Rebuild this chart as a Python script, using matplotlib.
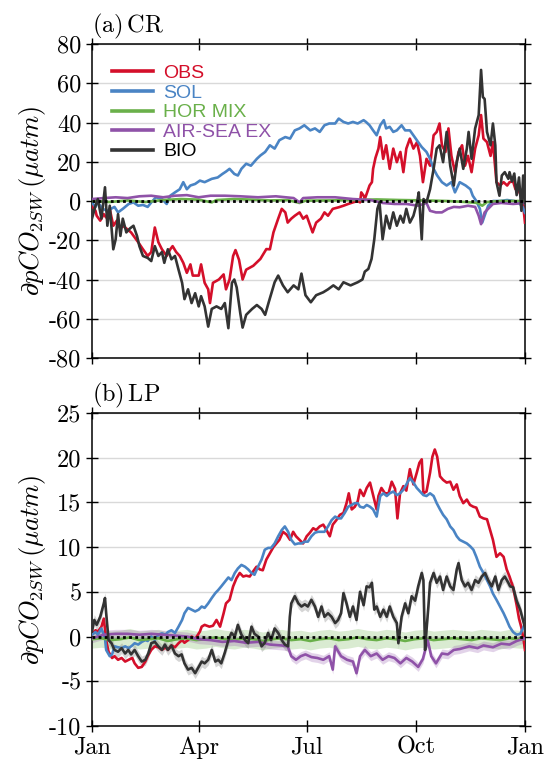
import numpy as np
import matplotlib
matplotlib.use("Agg")
import matplotlib.pyplot as plt

plt.rcParams['mathtext.fontset'] = 'cm'
plt.rcParams['axes.unicode_minus'] = False

# ---------------- data (day of year, value) ----------------
OBS_A = [(0,-2.4),(3,-5),(4,-7.5),(7,-10),(10,-6.7),(12,-8.4),(15,-4),(18,-12.6),(21,-10),(24,-14),
         (26,-12.6),(29,-14),(33,-16),(39,-21),(43,-24.6),(47,-28),(50,-26),(53,-13.5),(56,-21),(59,-24.6),
         (63,-28),(66,-24.6),(68,-23),(71,-26),(74,-28),(77,-31.5),(80,-36.6),(83,-32.3),(85,-38),(90,-38),
         (92,-32.3),(95,-41.7),(98,-45),(99.5,-52),(102,-41.7),(107,-40),(111,-37.4),(113,-45),(116,-40),
         (119,-28),(121,-25),(124,-30),(127,-40),(130,-35),(136,-33),(142,-29.5),(147,-24.5),(150,-24.6),
         (153,-16),(157,-9),(160,-4),(163,-5.8),(165,-11),(168,-9),(171,-7.5),(175,-5.8),(178,-9),(181,-7.5),
         (184,-12.6),(186,-16),(189,-11),(193,-9),(196,-5.8),(199,-7.5),(203,-4),(208,-3.2),(212,-2.4),
         (216,-1.5),(220,-0.7),(224,0),(226,-0.7),(227,4.4),(229,2.7),(230,1),(232,4.4),(234,7.9),(236,9.6),
         (237,16.4),(239,22),(241.5,26.7),(243,32.6),(245.5,21.5),(248,28.4),(251,16.4),(254,26.7),(257,19.8),
         (260,25),(262.5,14.7),(265,26.7),(268,31.8),(271,26.7),(274,30),(276.5,23),(279,9.6),(282,21.5),
         (285,18),(288,33.5),(290.6,35.2),(293,39.5),(295,28.4),(298,25),(300.5,37),(303,23),(306,14.7),
         (309,25),(312,28.4),(314.5,18),(317,23),(320,14.7),(323,26.7),(326,33.5),(328,43.8),(330,31.8),
         (333,30),(336,23),(338,30),(341,9.6),(344,7.9),(347,9.6),(350,7.9),(352,9.6),(355,10),(357,6),
         (360,5),(362,2),(364,-5),(365,-11)]
SOL_A = [(0,-0.7),(3,-3),(5,-0.7),(9,-4),(13,-5),(19,-3),(22,-5.8),(26,-4),(31,-1.5),(35,-0.7),(39,-2.4),
         (43,-2),(47,-3),(50,-0.7),(54,1.9),(59,1),(63,-1.5),(66,2.7),(70,4.4),(74,6),(77,9.6),(80,6),
         (83,7.9),(87,8.7),(91,10.4),(95,9.6),(101,11.3),(106,12),(110,13.8),(113,15),(116,16.4),(120,13.8),
         (123,13),(126,16.4),(130,19),(134,18),(139,21.5),(142,23.2),(146,25),(150,28.4),(154,26.7),(158,31),
         (163,32.6),(167,31.8),(171,36),(175,37),(179,38.6),(184,36),(188,37),(192,35.2),(196,38.6),(200,39.5),
         (205,39.5),(208,42),(212,40.3),(216,39.5),(220,40.3),(224,39.5),(229,41.2),(231,40.3),(234,38.6),
         (237,36),(240,33.5),(243,38.6),(246,41.2),(248,37),(251,37.8),(254,35.2),(257,36),(261,38.6),(264,36),
         (268,36),(272,32.6),(275,30),(278,27.5),(282,25),(285,21.5),(288,16.4),(291,13),(295,9.6),(299,7.9),
         (303,9.6),(306,4.4),(310,9.6),(315,7.9),(319,6),(321,2.7),(324,0),(327,-4),(329,-11),(331,-7.5),
         (334,-2.4),(338,0),(344,0),(350,0.5),(356,0),(360,-1),(363,-3),(365,-6)]
MIX_A = [(0,0),(15,-0.5),(30,0.3),(45,-0.5),(60,0.5),(75,1),(90,0.7),(101,-0.7),(105,0.5),(120,1),(135,0.7),
         (150,0.3),(165,0.5),(175,-1),(180,0.2),(200,0.3),(220,0.5),(240,0.8),(260,0.5),(280,0.3),(300,0),
         (315,-0.5),(325,-1),(329,-2.4),(333,-0.5),(345,0),(365,0)]
AIR_A = [(0,1),(10,1.5),(20,1.9),(30,1.5),(40,2.4),(50,2.7),(60,1.9),(70,2.7),(80,3),(90,1.9),(100,2.7),
         (112,2.7),(125,2.4),(140,1.9),(155,2.4),(170,1.5),(175,-0.7),(178,1.5),(190,1.9),(205,1.9),(220,1),
         (235,0.5),(245,-1),(255,-1.5),(265,-1.5),(275,-2.4),(282,-1),(285,-5),(290,-5.8),(295,-5.8),(300,-4),
         (305,-3),(310,-3.2),(317,-2.4),(323,-3),(326,-7.5),(328,-11.8),(331,-5.8),(338,-1.5),(345,-1),
         (355,-1.5),(365,-1)]
BIO_A = [(0,-9),(3,-2.4),(5,1),(8,-9),(11,7),(13,-12.6),(15,-2.4),(18,-24.6),(20,-19.5),(22,-6.7),(24,-17.8),
         (26,-9),(29,-16),(32,-14),(35,-12.6),(38,-17.8),(40,-23),(43,-28),(47,-29),(50,-30.6),(53,-23),
         (56,-28),(59,-26),(61,-31.5),(64,-24.6),(67,-29.7),(70,-28),(73,-35),(76,-41.7),(78,-50),(81,-45),
         (84,-52),(87,-47),(90,-53.7),(92,-48.5),(95,-53.7),(98,-64),(101,-55),(105,-53.7),(109,-55),(112,-52),
         (115,-64.8),(118,-41.7),(120,-40),(122,-44),(125,-57),(127,-64.5),(130,-58),(135,-55),(139,-53),
         (143,-55),(146,-58),(149,-51.6),(154,-41.4),(157,-38),(161,-43),(165,-46.5),(170,-43),(174,-45),
         (176.6,-37),(180,-48),(184.5,-51.6),(189,-48),(195,-46.5),(199,-45),(203.5,-43),(208,-45),(212,-41.4),
         (218,-43),(224,-41.4),(228,-40),(230,-36),(233,-34.6),(235.7,-29.5),(238,-19.5),(240.6,-4),(242.4,-0.7),
         (245,-19.5),(248,-7.5),(251,-14),(254,-5.8),(257,-12.6),(260,-7.5),(262.5,-11),(265,-4),(268,-11),
         (271,-7.5),(274,-0.7),(275.5,4.4),(278,-19.5),(279.5,1),(282,-0.7),(285,6),(288,16.4),(290.6,26.7),
         (293,28.4),(296,19.8),(299,35.2),(302,18),(305,7.9),(307.5,19.8),(310,26.7),(313,16.4),(316,26.7),
         (317.5,35.2),(320,21.5),(323,37),(326,43.8),(328,66.8),(329.5,53),(331,52),(333,35.2),(336,28.4),
         (338,39.5),(340,28.4),(341,9.6),(343.5,2.7),(345.5,13),(348,14.7),(351,11.3),(352,14.7),(354,10),
         (356,14),(358,3),(360,12),(362,-5),(363.5,13),(365,-1)]

OBS_B = [(0,0.2),(3,0.7),(5,0.55),(8,1.1),(10,2),(12,-0.4),(14,-1.7),(17,-2.4),(19,-2.2),(22,-2.6),(25,-2.4),
         (28,-2.8),(31,-2.6),(34,-2.4),(36,-3),(39,-3.5),(42,-3.4),(45,-2.8),(47,-2.2),(50,-1.5),(53,-1.1),
         (56,-1.2),(59,-1.5),(62,-1.2),(64,-1.5),(67,-1),(70,-1.2),(73,-0.75),(76,-0.4),(78,-0.7),(81,-0.4),
         (84,0),(87,-0.3),(91,0.55),(92.5,1.1),(95,1.3),(99,1.1),(102,1.2),(105,1.85),(108,1.1),(111,2.6),
         (113,3.7),(116,4.1),(119,5.6),(121.8,6.5),(124.6,7.1),(127.5,6.7),(130,6.8),(133,6.7),(136,7.3),
         (138.7,7.8),(141.5,7.5),(144,7.4),(147,8.6),(150,9.3),(153,10),(155.5,10.4),(158,10.8),(161,11.7),
         (164,11.4),(167,10.8),(169.6,11.7),(172,11.2),(175,10.8),(178,10.4),(181,11.2),(183.7,11.6),
         (186.5,12.1),(189,11.9),(192,12.3),(195,12.5),(197.7,11.9),(200.5,11.2),(203,12.5),(206,13),
         (209,13.6),(212,13.8),(214.6,14.9),(216.5,16),(219,14.2),(221.6,14.5),(224,15.1),(226,16.4),
         (229,15.7),(231.6,16.6),(234.4,17.2),(237,15.8),(240,14.2),(241.5,15.7),(244,16.6),(247,16),(250,16),
         (252.7,17.3),(255.5,16.5),(257.5,13.2),(259.7,16),(262.5,16.8),(265,16.3),(268,18.7),(271,17),
         (273.8,18.3),(276,19.4),(278,19.8),(279.4,16),(282,16.2),(285,18.3),(287,20.1),(289,20.9),(291,20.1),
         (293.4,17.9),(296,17.5),(299,17.2),(302,17.3),(304.7,16.4),(307.5,17),(310,15.7),(313,14.9),(316,15.3),
         (318.7,14.7),(321.5,14.5),(324,14.4),(327,13.4),(330,13.2),(333,13.1),(335.6,11.9),(338,10.8),
         (341,8.9),(344,9.3),(347,8.9),(349.6,7.5),(352,6.7),(355,5.5),(358,3.5),(360,2),(362,1),(364,-0.5),
         (365,-1.5)]
SOL_B = [(0,0.2),(3,0.5),(5,0.2),(8,0.9),(11,-0.2),(12,-1.5),(15,-2.2),(17,-2),(19,-1.1),(22,-1.2),(25,-1.3),
         (28,-1.1),(31,-1.3),(34,-1),(36,-0.75),(39,-0.9),(42,-0.6),(45,-0.4),(47,-0.5),(50,0),(53,-0.4),
         (56,0.2),(59,0.35),(62,0.2),(64,0.5),(67,0.7),(70,0.4),(73,1.1),(76,1.85),(78,2.6),(81,3.2),(84,3),
         (87,2.8),(90,3),(92.5,3.35),(95,3.2),(98,3.7),(101,4.3),(104,4.85),(106.5,5.2),(109,5.6),(112,6.1),
         (115,6.6),(117.6,6.3),(120.4,7.1),(123,7.6),(126,8),(129,7.8),(131.7,7.5),(134.5,7.1),(137,6.9),
         (140,7.8),(143,8.6),(145.7,9.7),(148.5,9.9),(151,9.9),(154,10.4),(157,11.2),(160,11.9),(162.6,12.3),
         (165.4,11.7),(168,10.8),(171,10.3),(174,10.4),(176.6,10.4),(179.4,10.6),(182,10.6),(185,11.2),
         (188,11.6),(190.7,11.7),(193.5,11.7),(196,11.7),(199,12.3),(202,13),(205,13.4),(207.5,13.2),
         (210,13.2),(213,13.8),(216,14.5),(218.8,14.7),(221.6,14.9),(224,14.9),(226,14.5),(229,14.4),
         (231.6,14.7),(234.4,14.5),(237,14.2),(240,13.4),(243,15.7),(245.7,16),(248.5,15.7),(251,16),(254,16.2),
         (257,15.8),(259.7,16),(262.5,16.4),(265,17),(268,17.7),(271,17.2),(273.8,16.6),(276.6,16.2),
         (279.4,15.8),(282,15.7),(285,16),(288,15.7),(290.6,14.9),(293.4,14.2),(296,13.6),(299,13.1),(302,12.3),
         (304.7,11.9),(307.5,11.2),(310,10.8),(313,10.6),(316,10.4),(318.7,10.1),(321.5,9.7),(324,8.9),
         (327,7.8),(330,7.1),(333,6.3),(335.6,5.6),(338,4.8),(341,4.1),(344,3.35),(347,2.6),(349.6,1.85),
         (352,1.1),(355,0.5),(358,0.2),(361,0.3),(363,0.8),(365,1.5)]
MIX_B = [(0,-0.3),(8,-0.2),(16,-0.4),(24,-0.3),(32,-0.1),(40,-0.4),(48,-0.3),(56,-0.2),(64,-0.5),(72,-0.3),
         (80,-0.2),(88,-0.4),(96,-0.3),(104,-0.1),(112,-0.3),(120,-0.4),(128,-0.2),(136,-0.3),(144,-0.5),
         (152,-0.3),(160,-0.2),(168,-0.4),(176,-0.3),(184,-0.5),(192,-0.3),(200,-0.2),(208,-0.4),(216,-0.3),
         (224,-0.1),(232,-0.3),(240,-0.4),(248,-0.2),(256,-0.3),(264,-0.5),(272,-0.3),(280,-0.2),(288,-0.4),
         (296,-0.3),(304,-0.2),(312,-0.3),(320,-0.4),(328,-0.2),(336,-0.3),(344,-0.4),(352,-0.2),(360,-0.3),
         (365,-0.3)]
AIR_B = [(0,-0.2),(10,0.2),(20,0.3),(30,0.3),(40,0.2),(50,0.3),(60,0.2),(70,0.1),(80,0),(90,-0.3),(100,-0.4),
         (110,-0.6),(120,-0.5),(130,-0.7),(140,-0.6),(150,-0.9),(160,-1),(165,-1.1),(168,-2.2),(172,-2.6),
         (176,-2.2),(180,-2),(185,-2.3),(190,-2.4),(195,-2.6),(200,-2.2),(203,-3.7),(205,-1.1),(210,-2.2),
         (215,-2.6),(220,-2.8),(223,-4.1),(226,-2.2),(230,-1.5),(235,-2.2),(240,-1.9),(245,-2.6),(250,-2.2),
         (255,-2.4),(260,-3),(265,-2.4),(270,-2.8),(275,-3.4),(279,-2.5),(283,-0.4),(286,-2.2),(290,-3),
         (295,-1.9),(300,-2),(305,-1.5),(310,-1.4),(318,-1.1),(325,-1.3),(330,-1),(338,-1.2),(345,-0.8),
         (352,-0.9),(358,-0.5),(365,-0.2)]
BIO_B = [(0,0.55),(2,1.85),(4,1.3),(7,2.2),(10,3.7),(11,4.3),(12,2.6),(14,-0.4),(16.5,-0.75),(19,-1.5),
         (22,-1.7),(25,-1.3),(28,-1.9),(30.6,-1.5),(33,-2),(36,-1.5),(39,-2.2),(42,-2.8),(45,-2.6),(47.5,-1.9),
         (50,-0.75),(53,-0.6),(56,-1.1),(59,-1.5),(61.5,-0.9),(64,-1.5),(67,-1),(70,-1.9),(73,-2.2),(75.6,-2),
         (78,-3),(81,-3.7),(84,-3.5),(87,-4.1),(90,-3.4),(92.5,-2.8),(95,-3),(98,-2.6),(101,-1.5),(104,-2.8),
         (106.5,-2.6),(109,-3),(112,-1.8),(115,-0.4),(117.6,0.4),(120.4,0),(123,1.3),(126,0.2),(129,-0.4),
         (131.7,-0.75),(134.5,1.1),(137,0.3),(140,0),(143,-1.1),(145.7,-0.7),(148.5,0.4),(151,-0.4),(154,0.9),
         (157,0.4),(160,-0.4),(162.6,-0.9),(165.4,-1.1),(166.8,2.2),(168,3.7),(171,4.5),(174,3.7),(176.6,3.35),
         (179.4,3.6),(182,3.35),(185,4.1),(188,3.35),(190.7,2.2),(193.5,3.35),(196,2.2),(199,2.6),(202,2.2),
         (205,1.5),(207.5,1.85),(210,2.6),(212,4.85),(214.6,3.7),(217.4,2.2),(220,3.35),(223,1.85),(226,5),
         (229,3.5),(231.5,5.6),(234,5.5),(236,6),(238,3),(240,3.35),(243,2.2),(245.7,3),(248.5,2.2),(251,3.35),
         (254,2.2),(257,1.5),(258.3,-0.75),(261,2.2),(264,3.7),(266.7,2.6),(269.5,4.5),(272.4,4),(275,5.6),
         (278,7.1),(279.4,6.3),(280.8,-1.5),(282,0.7),(283.6,3.35),(285,6),(288,7.1),(290.6,6),(293.4,6.7),
         (296,5.2),(299,6.7),(302,5.6),(304.7,5.2),(307.5,7.5),(309,8.2),(311.7,6.3),(314.5,5.6),(317,6),
         (320,5.2),(323,6.3),(325.8,6),(328.6,6.7),(331.4,7.1),(334,6.3),(337,5.6),(340,6.7),(342.6,5.2),
         (345.4,6.3),(348,6.7),(351,6),(352.5,5.6),(355,5.5),(358,4),(361,3),(363,2),(365,1)]

BIO_B_UNC = 0.6
MIX_B_UNC = 1.0
AIR_B_UNC = 0.5

LABELS = ['OBS', 'SOL', 'HOR MIX', 'AIR-SEA EX', 'BIO']
COLORS = ['#d40f2a', '#4a84c4', '#6ab04a', '#8f52a8', '#333333']
MONTH_TICKS = [0, 90, 181, 273, 365]
MONTH_LABELS = ['Jan', 'Apr', 'Jul', 'Oct', 'Jan']
YT_A = [-80, -60, -40, -20, 0, 20, 40, 60, 80]
YT_B = [-10, -5, 0, 5, 10, 15, 20, 25]

def xy(pairs):
    a = np.array(pairs, dtype=float)
    return a[:, 0], a[:, 1]

fig = plt.figure(figsize=(5.44, 7.63), dpi=100)
axA = fig.add_axes([0.169, 0.5308, 0.796, 0.4115])
axB = fig.add_axes([0.169, 0.0485, 0.796, 0.4105])

def style(ax, yticks, show_x):
    ax.set_xlim(0, 365)
    ax.set_ylim(yticks[0], yticks[-1])
    ax.set_yticks(yticks)
    ax.set_yticklabels([str(v) for v in yticks], fontfamily='cmr10', fontsize=17.5)
    ax.set_xticks(MONTH_TICKS)
    if show_x:
        ax.set_xticklabels(MONTH_LABELS, fontfamily='cmr10', fontsize=17.5)
    else:
        ax.set_xticklabels([])
    ax.tick_params(direction='inout', length=9, width=1.0, top=True, right=True, pad=3)
    for s in ax.spines.values():
        s.set_linewidth(1.1)
    ax.grid(axis='y', color='#d9d9d9', lw=1.0)
    ax.set_axisbelow(True)
    ax.set_ylabel(r'$\partial pCO_{2SW}\,(\mu atm)$', fontsize=19, labelpad=1)

lw = 1.9
series_A = [OBS_A, SOL_A, MIX_A, AIR_A, BIO_A]
for pairs, c, lab in zip(series_A, COLORS, LABELS):
    d, v = xy(pairs)
    axA.plot(d, v, color=c, lw=lw, label=lab, zorder=3)
axA.axhline(0, color='black', ls=(0, (1, 1.2)), lw=2.0, zorder=4)
style(axA, YT_A, False)
leg = axA.legend(loc='upper left', bbox_to_anchor=(0.005, 0.99), frameon=False,
                 handlelength=2.15, handletextpad=0.5, labelspacing=0.1,
                 prop={'family': 'Liberation Sans', 'size': 14})
for txt, c in zip(leg.get_texts(), COLORS):
    txt.set_color(c if c != '#333333' else 'black')
for h in leg.get_lines():
    h.set_linewidth(2.6)
axA.text(0.0, 1.01, r'$\mathrm{(a)\,CR}$', transform=axA.transAxes, fontsize=17.5,
         ha='left', va='bottom')

# panel b
d, v = xy(MIX_B)
axB.fill_between(d, v - MIX_B_UNC, v + MIX_B_UNC, color='#6ab04a', alpha=0.25, lw=0, zorder=2)
d, v = xy(AIR_B)
axB.fill_between(d, v - AIR_B_UNC, v + AIR_B_UNC, color='#8f52a8', alpha=0.25, lw=0, zorder=2)
d, v = xy(BIO_B)
axB.fill_between(d, v - BIO_B_UNC, v + BIO_B_UNC, color='#888888', alpha=0.35, lw=0, zorder=2)
series_B = [OBS_B, SOL_B, MIX_B, AIR_B, BIO_B]
for pairs, c, lab in zip(series_B, COLORS, LABELS):
    d, v = xy(pairs)
    axB.plot(d, v, color=c, lw=lw, label=lab, zorder=3)
axB.axhline(0, color='black', ls=(0, (1, 1.2)), lw=2.0, zorder=4)
style(axB, YT_B, True)
axB.text(0.0, 1.01, r'$\mathrm{(b)\,LP}$', transform=axB.transAxes, fontsize=17.5,
         ha='left', va='bottom')

fig.savefig('out.png', dpi=100)
